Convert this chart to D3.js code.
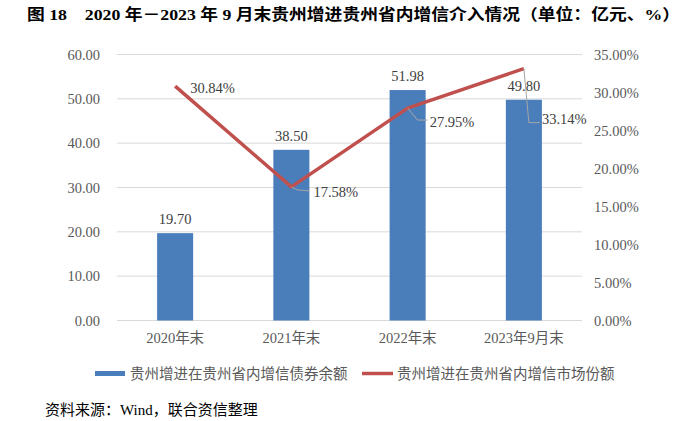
<!DOCTYPE html>
<html><head><meta charset="utf-8">
<script src="https://cdn.jsdelivr.net/npm/d3@7"></script>
<style>
body{margin:0;background:#fff}svg{display:block}
svg text{font-family:"Liberation Serif","Times New Roman","Tinos","Nimbus Roman","DejaVu Serif","Noto Sans CJK SC",serif;}
</style>
</head><body>
<svg id="c" width="700" height="421"></svg>
<script>
const categories = ["2020年末", "2021年末", "2022年末", "2023年9月末"];
const balance = [19.70, 38.50, 51.98, 49.80];
const share = [30.84, 17.58, 27.95, 33.14];
const leftTicks = [0, 10, 20, 30, 40, 50, 60];
const rightTicks = [0, 5, 10, 15, 20, 25, 30, 35];
const seriesNames = ["贵州增进在贵州省内增信债券余额", "贵州增进在贵州省内增信市场份额"];
const title = "图 18　2020 年－2023 年 9 月末贵州增进贵州省内增信介入情况（单位：亿元、%）";
const source = "资料来源：Wind，联合资信整理";

const svg = d3.select("#c");
const BLUE = "#4a7ebb", RED = "#c0504d", GRID = "#d9d9d9", TXT = "#595959";

const x = d3.scaleBand().domain(categories).range([117, 582]).paddingInner(0.69).paddingOuter(0.345);
const yL = d3.scaleLinear().domain([0, 60]).range([320.5, 54.5]);
const yR = d3.scaleLinear().domain([0, 35]).range([320.5, 54.5]);

// title
svg.append("text").attr("x", 27).attr("y", 20)
  .attr("font-weight", "bold").attr("font-size", 15.5).attr("fill", "#000")
  .attr("textLength", 653).attr("lengthAdjust", "spacingAndGlyphs").text(title);

// grid
svg.append("g").selectAll("line").data(leftTicks).join("line")
  .attr("x1", 117).attr("x2", 582).attr("y1", d => yL(d)).attr("y2", d => yL(d))
  .attr("stroke", GRID).attr("stroke-width", 1);

// left axis
const gl = svg.append("g").attr("transform", "translate(117,0)")
  .call(d3.axisLeft(yL).tickValues(leftTicks).tickFormat(d3.format(".2f")).tickSize(0).tickPadding(17));
gl.select(".domain").remove();
gl.attr("font-family", null);
gl.selectAll("text").attr("font-size", 14.5).attr("fill", TXT);

// right axis
const gr = svg.append("g").attr("transform", "translate(582,0)")
  .call(d3.axisRight(yR).tickValues(rightTicks).tickFormat(d => d3.format(".2f")(d) + "%").tickSize(0).tickPadding(12));
gr.select(".domain").remove();
gr.attr("font-family", null);
gr.selectAll("text").attr("font-size", 14.5).attr("fill", TXT);

// bottom axis
const gb = svg.append("g").attr("transform", "translate(0,320.5)")
  .call(d3.axisBottom(x).tickSize(0).tickPadding(12));
gb.select(".domain").remove();
gb.attr("font-family", null);
gb.selectAll("text").attr("font-size", 14.5).attr("fill", TXT);

// bars
svg.append("g").selectAll("rect").data(balance).join("rect")
  .attr("x", (d, i) => x(categories[i])).attr("width", x.bandwidth())
  .attr("y", d => yL(d)).attr("height", d => yL(0) - yL(d)).attr("fill", BLUE);

svg.append("g").selectAll("text").data(balance).join("text")
  .attr("x", (d, i) => x(categories[i]) + x.bandwidth() / 2).attr("y", d => yL(d) - 9)
  .attr("text-anchor", "middle").attr("font-size", 14.5).attr("fill", "#404040")
  .text(d => d3.format(".2f")(d));

// line
const cx = i => x(categories[i]) + x.bandwidth() / 2;
const line = d3.line().x((d, i) => cx(i)).y(d => yR(d));
svg.append("path").datum(share).attr("d", line).attr("fill", "none")
  .attr("stroke", RED).attr("stroke-width", 3.5).attr("stroke-linejoin", "round");

// leader lines & labels for line
const lblOff = [
  {dx: 15, dy: 2, leader: null},
  {dx: 22, dy: 5, leader: [[0, 0], [6, 3], [18, 4]]},
  {dx: 22, dy: 14, leader: [[0, 0], [10, 12], [20, 12]]},
  {dx: 18, dy: 50, leader: [[0, 0], [5, 54], [16, 54]]}
];
share.forEach((d, i) => {
  const px = cx(i), py = yR(d), o = lblOff[i];
  if (o.leader) {
    svg.append("path").attr("d", d3.line()(o.leader.map(p => [px + p[0], py + p[1]])))
      .attr("fill", "none").attr("stroke", "#a6a6a6").attr("stroke-width", 1);
  }
  svg.append("text").attr("x", px + o.dx).attr("y", py + o.dy + 5)
    .attr("font-size", 14.5).attr("fill", "#404040")
    .text(d3.format(".2f")(d) + "%");
});

// legend
svg.append("rect").attr("x", 95).attr("y", 371).attr("width", 30).attr("height", 5).attr("fill", BLUE);
svg.append("text").attr("x", 130).attr("y", 379).attr("font-size", 14.5)
  .attr("fill", TXT).text(seriesNames[0]);
svg.append("line").attr("x1", 362).attr("x2", 393).attr("y1", 373.5).attr("y2", 373.5)
  .attr("stroke", RED).attr("stroke-width", 3.5);
svg.append("text").attr("x", 397).attr("y", 379).attr("font-size", 14.5)
  .attr("fill", TXT).text(seriesNames[1]);

// source
svg.append("text").attr("x", 45).attr("y", 415).attr("font-size", 15)
  .attr("fill", "#000").text(source);
</script>
</body></html>
